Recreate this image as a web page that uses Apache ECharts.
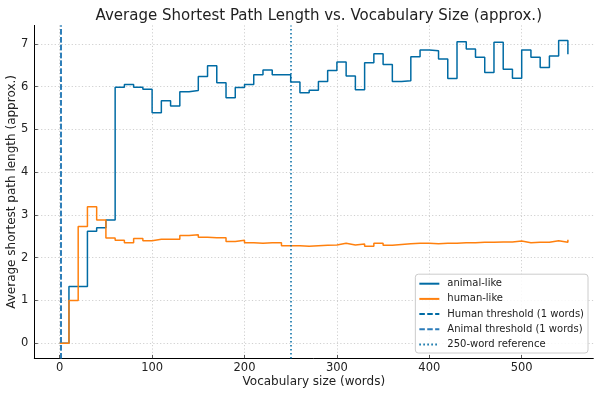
<!DOCTYPE html>
<html>
<head>
<meta charset="utf-8">
<script src="https://cdn.jsdelivr.net/npm/echarts@6/dist/echarts.min.js"></script>
<style>
html,body{margin:0;padding:0;background:#fff;}
#chart{width:600px;height:397px;}
</style>
</head>
<body>
<div id="chart"></div>
<script>
const vocabSizes = [0,10,20,30,40,50,60,70,80,90,100,110,120,130,140,150,160,170,180,190,200,210,220,230,240,250,260,270,280,290,300,310,320,330,340,350,360,370,380,390,400,410,420,430,440,450,460,470,480,490,500,510,520,530,540,550];
const animalPath = [0,1.33,1.33,2.62,2.70,2.88,5.99,6.05,5.99,5.94,5.39,5.67,5.55,5.88,5.91,6.24,6.49,6.09,5.74,5.98,6.05,6.28,6.39,6.28,6.28,6.11,5.86,5.92,6.12,6.38,6.58,6.25,5.93,6.56,6.77,6.52,6.12,6.14,6.70,6.86,6.84,6.65,6.19,7.05,6.88,6.69,6.33,7.04,6.41,6.20,6.86,6.69,6.45,6.72,7.08,6.76];
const humanPath = [0,1.0,2.73,3.19,2.88,2.46,2.41,2.35,2.45,2.40,2.43,2.43,2.43,2.52,2.54,2.48,2.47,2.47,2.38,2.41,2.35,2.34,2.35,2.35,2.28,2.28,2.27,2.28,2.29,2.30,2.34,2.30,2.32,2.27,2.34,2.29,2.31,2.33,2.34,2.34,2.33,2.34,2.34,2.35,2.35,2.36,2.36,2.37,2.37,2.39,2.35,2.36,2.36,2.40,2.36,2.42];
const xTicks = [0,100,200,300,400,500];
const yTicks = [0,1,2,3,4,5,6,7];
const humanThreshold = 1;
const animalThreshold = 1;
const referenceWords = 250;

const BLUE = '#006BA4';
const ORANGE = '#FF800E';
const FONT = 'DejaVu Sans';

function pairs(xs, ys){ return xs.map((x,i)=>[x, ys[i]]); }

const chart = echarts.init(document.getElementById('chart'), null, {renderer:'canvas'});
const gridLine = {show:true, lineStyle:{color:'#c4c4c4', width:0.8, type:[1.2,2.2]}};

chart.setOption({
  animation:false,
  backgroundColor:'#fff',
  textStyle:{fontFamily:FONT},
  title:{
    text:'Average Shortest Path Length vs. Vocabulary Size (approx.)',
    left:313.8, top:4, textAlign:'center',
    textStyle:{fontFamily:FONT, fontSize:15, fontWeight:'normal', color:'#222'}
  },
  grid:{left:34.3, right:6.7, top:25.4, bottom:38.6, containLabel:false, outerBoundsMode:'none'},
  xAxis:{
    type:'value', min:-27.5, max:577.5,
    name:'Vocabulary size (words)', nameLocation:'middle', nameGap:23, nameMoveOverlap:false,
    nameTextStyle:{fontFamily:FONT, fontSize:12, color:'#222', verticalAlign:'middle'},
    axisLine:{show:true, onZero:false, lineStyle:{color:'#000', width:1}},
    axisTick:{show:true, inside:true, length:3.5, customValues:xTicks, lineStyle:{color:'#333', width:0.8}},
    axisLabel:{customValues:xTicks, fontFamily:FONT, fontSize:11.5, color:'#222', margin:4},
    splitLine:gridLine
  },
  yAxis:{
    type:'value', min:-0.354, max:7.434,
    name:'Average shortest path length (approx.)', nameLocation:'middle', nameGap:22, nameRotate:90, nameMoveOverlap:false,
    nameTextStyle:{fontFamily:FONT, fontSize:12, color:'#222', verticalAlign:'middle'},
    axisLine:{show:true, onZero:false, lineStyle:{color:'#000', width:1}},
    axisTick:{show:true, inside:true, length:3.5, customValues:yTicks, lineStyle:{color:'#333', width:0.8}},
    axisLabel:{customValues:yTicks, fontFamily:FONT, fontSize:11.5, color:'#222', margin:6},
    splitLine:gridLine
  },
  legend:{
    orient:'vertical', right:12, bottom:44,
    backgroundColor:'rgba(255,255,255,0.85)', borderColor:'#cccccc', borderWidth:1, borderRadius:3,
    padding:[4,4,3,3], itemWidth:20, itemHeight:10, itemGap:4.2,
    itemStyle:{opacity:0},
    textStyle:{fontFamily:FONT, fontSize:10, color:'#222', lineHeight:11, padding:[0,0,0,3]},
    data:['animal-like','human-like','Human threshold (1 words)','Animal threshold (1 words)','250-word reference']
  },
  series:[
    {name:'animal-like', type:'line', step:'end', symbol:'none', data:pairs(vocabSizes, animalPath),
     lineStyle:{color:BLUE, width:1.5}, itemStyle:{color:BLUE}, z:3},
    {name:'human-like', type:'line', step:'end', symbol:'none', data:pairs(vocabSizes, humanPath),
     lineStyle:{color:ORANGE, width:1.5}, itemStyle:{color:ORANGE}, z:4},
    {name:'Human threshold (1 words)', type:'line', symbol:'none', data:[],
     lineStyle:{color:BLUE, width:1.5, type:[5.5,2.4]}, itemStyle:{color:BLUE},
     markLine:{silent:true, symbol:'none', label:{show:false}, lineStyle:{color:BLUE, width:1.5, type:[5.5,2.4]},
       data:[{xAxis:humanThreshold}]}, z:5},
    {name:'Animal threshold (1 words)', type:'line', symbol:'none', data:[],
     lineStyle:{color:'#2b7bb9', width:1.5, type:[5.5,2.4]}, itemStyle:{color:'#2b7bb9'},
     markLine:{silent:true, symbol:'none', label:{show:false}, lineStyle:{color:'#2b7bb9', width:1.5, type:[5.5,2.4]},
       data:[{xAxis:animalThreshold}]}, z:5},
    {name:'250-word reference', type:'line', symbol:'none', data:[],
     lineStyle:{color:BLUE, width:1.5, type:[1.5,2.5]}, itemStyle:{color:BLUE},
     markLine:{silent:true, symbol:'none', label:{show:false}, lineStyle:{color:BLUE, width:1.5, type:[1.5,2.5]},
       data:[{xAxis:referenceWords}]}, z:5}
  ]
});
</script>
</body>
</html>
